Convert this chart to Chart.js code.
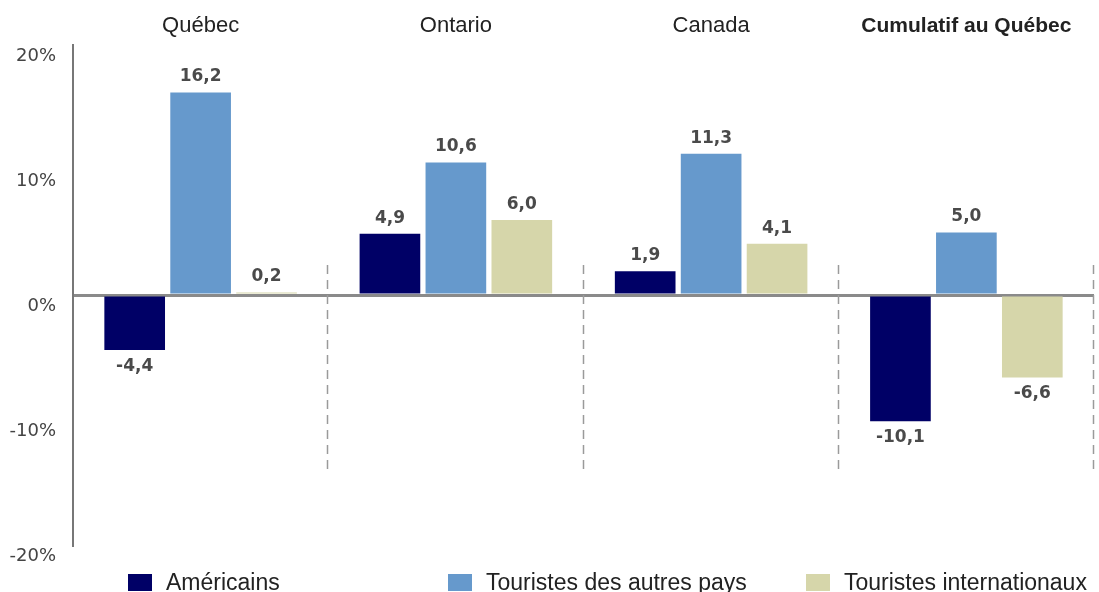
<!DOCTYPE html>
<html>
<head>
<meta charset="utf-8">
<script src="https://cdn.jsdelivr.net/npm/chart.js@4"></script>
<style>
  html, body { margin: 0; padding: 0; background: #fff; }
  #wrap { width: 1099px; height: 592px; }
</style>
</head>
<body>
<div id="wrap"><canvas id="tourChart"></canvas></div>
<script>
// categories & series
const regions = ["Québec", "Ontario", "Canada", "Cumulatif au Québec"];
const americains = [-4.4, 4.9, 1.9, -10.1];
const autresPays = [16.2, 10.6, 11.3, 5.0];
const internationaux = [0.2, 6.0, 4.1, -6.6];
const seriesNames = ["Américains", "Touristes des autres pays", "Touristes internationaux"];
const seriesColors = ["#000066", "#6699cc", "#d6d6aa"];
const yTicks = [-20, -10, 0, 10, 20];

// value labels above / below bars
const valueLabels = {
  id: 'valueLabels',
  afterDatasetsDraw(chart) {
    let ctx = chart.ctx;
    ctx.save();
    ctx.font = 'bold 17px "DejaVu Sans"';
    ctx.fillStyle = '#4a4a4a';
    ctx.textAlign = 'center';
    chart.data.datasets.forEach((ds, i) => {
      chart.getDatasetMeta(i).data.forEach((bar, j) => {
        let v = ds.data[j];
        let txt = v.toFixed(1).replace('.', ',');
        if (v >= 0) { ctx.textBaseline = 'bottom'; ctx.fillText(txt, bar.x, bar.y - 7); }
        else { ctx.textBaseline = 'top'; ctx.fillText(txt, bar.x, bar.y + 8); }
      });
    });
    ctx.restore();
  }
};

// dashed separators between the groups
const separators = {
  id: 'separators',
  beforeDatasetsDraw(chart) {
    let xs = chart.scales.x, ys = chart.scales.y, ctx = chart.ctx;
    let half = (xs.getPixelForValue(1) - xs.getPixelForValue(0)) / 2;
    let top = ys.getPixelForValue(2.4), bot = ys.getPixelForValue(-14);
    ctx.save();
    ctx.strokeStyle = '#9a9a9a';
    ctx.lineWidth = 1.5;
    ctx.setLineDash([9, 6]);
    for (let i = 0; i < regions.length; i++) {
      let x = Math.round(xs.getPixelForValue(i) + half) - 0.5;
      ctx.beginPath();
      ctx.moveTo(x, top);
      ctx.lineTo(x, bot);
      ctx.stroke();
    }
    ctx.restore();
  }
};

// legend spread across the bottom
const bottomLegend = {
  id: 'bottomLegend',
  afterDraw(chart, args, opts) {
    let ctx = chart.ctx;
    ctx.save();
    ctx.font = '23px "Liberation Sans"';
    ctx.textBaseline = 'alphabetic';
    ctx.textAlign = 'left';
    chart.data.datasets.forEach((ds, i) => {
      let x = opts.x[i];
      ctx.fillStyle = ds.backgroundColor;
      ctx.fillRect(x, opts.y, 24, 17);
      ctx.fillStyle = '#222';
      ctx.fillText(ds.label, x + 38, opts.y + 16);
    });
    ctx.restore();
  }
};

const tourChart = new Chart("tourChart", {
  type: "bar",
  data: {
    labels: regions,
    datasets: [
      { label: seriesNames[0], data: americains, backgroundColor: seriesColors[0] },
      { label: seriesNames[1], data: autresPays, backgroundColor: seriesColors[1] },
      { label: seriesNames[2], data: internationaux, backgroundColor: seriesColors[2] }
    ]
  },
  options: {
    responsive: true,
    maintainAspectRatio: false,
    animation: false,
    categoryPercentage: 0.775,
    barPercentage: 0.92,
    layout: { padding: { top: 4, left: 8, right: 5, bottom: 47 } },
    scales: {
      x: {
        position: 'top',
        grid: { display: false },
        border: { display: false },
        afterFit: (s) => { s.height = 41; },
        ticks: {
          padding: -2,
          color: '#222',
          font: (c) => c.index === 3
            ? { family: '"Liberation Sans"', size: 21, weight: 'bold' }
            : { family: '"Liberation Sans"', size: 22, weight: 'normal' }
        }
      },
      y: {
        min: -20,
        max: 20,
        afterBuildTicks: (s) => { s.ticks = yTicks.map(v => ({ value: v })); },
        afterFit: (s) => { s.width = 65; },
        grid: {
          drawTicks: false,
          color: (c) => c.tick && c.tick.value === 0 ? '#8a8a8a' : 'transparent',
          lineWidth: 3
        },
        border: { display: true, color: '#777', width: 2 },
        ticks: {
          padding: 17,
          labelOffset: 11,
          color: '#444',
          font: { family: '"DejaVu Sans"', size: 18 },
          callback: (v) => v + '%'
        }
      }
    },
    plugins: {
      legend: { display: false },
      tooltip: { enabled: false },
      bottomLegend: { x: [128, 448, 806], y: 574 }
    }
  },
  plugins: [separators, valueLabels, bottomLegend]
});
</script>
</body>
</html>
